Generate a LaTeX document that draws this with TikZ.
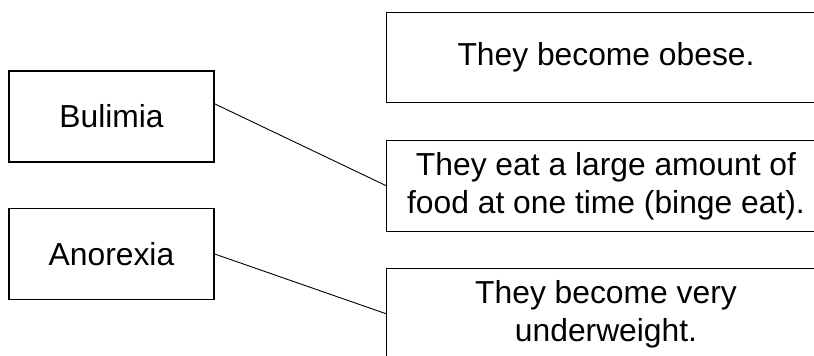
\documentclass[tikz,border=0pt]{standalone}
\usepackage{fontspec}
\setmainfont{Liberation Sans}
\usepackage{tikz}

\begin{document}
\begin{tikzpicture}[x=1pt, y=1pt,
        disease/.style = {draw, line width=1.3pt, inner sep=0pt, minimum width=205pt, minimum height=91pt, font=\fontsize{31.8}{38}\selectfont},
        effect/.style = {inner sep=0pt, minimum width=438pt, minimum height=90pt, align=center, font=\fontsize{31.8}{38}\selectfont},
        frame/.style = {line width=1.3pt},
        link/.style = {line width=0.9pt}]
        \useasboundingbox (0,0) rectangle (814,356);
        \node[disease] (bul) at (111.5, 239.5) {Bulimia};
        \node[disease] (ano) at (111.5, 102) {Anorexia};
        \node[effect] (obese) at (606, 298.5) {They become obese.};
        \node[effect] (binge) at (606, 170) {They eat a large amount of\\food at one time (binge eat).};
        \node[effect] (under) at (606, 42) {They become very\\underweight.};
        \foreach \n in {obese, binge, under}
            \draw[frame] ([xshift=40pt]\n.north east) -- (\n.north west) -- (\n.south west) -- ([xshift=40pt]\n.south east);
        \draw[link] (bul.7.5) -- (binge.west);
        \draw[link] (ano.east) -- (under.west);
    \end{tikzpicture}
\end{document}
